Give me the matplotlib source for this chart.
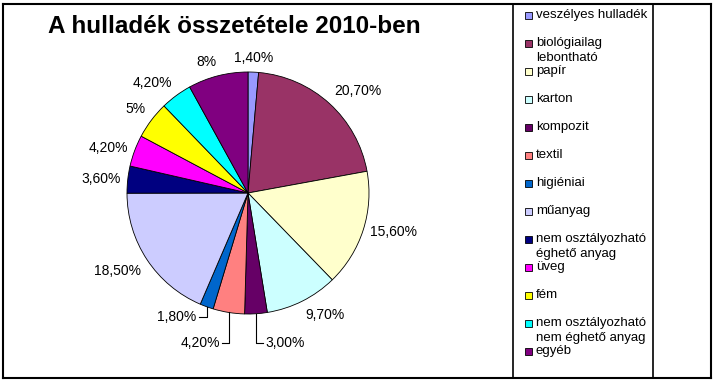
import numpy as np
import matplotlib
matplotlib.use("Agg")
import matplotlib.pyplot as plt
from matplotlib.patches import Rectangle
from matplotlib.lines import Line2D

plt.rcParams['font.family'] = ['Liberation Sans', 'DejaVu Sans']

title = "A hulladék összetétele 2010-ben"
categories = ["veszélyes hulladék", "biológiailag\nlebontható", "papír", "karton",
              "kompozit", "textil", "higiéniai", "műanyag",
              "nem osztályozható\néghető anyag", "üveg", "fém",
              "nem osztályozható\nnem éghető anyag", "egyéb"]
values = [1.4, 20.7, 15.6, 9.7, 3.0, 4.2, 1.8, 18.5, 3.6, 4.2, 5.0, 4.2, 8.0]
value_labels = ["1,40%", "20,70%", "15,60%", "9,70%", "3,00%", "4,20%", "1,80%",
                "18,50%", "3,60%", "4,20%", "5%", "4,20%", "8%"]
colors = ["#9999FF", "#993366", "#FFFFCC", "#CCFFFF", "#660066", "#FF8080",
          "#0066CC", "#CCCCFF", "#000080", "#FF00FF", "#FFFF00", "#00FFFF", "#800080"]

W, H = 714, 383
fig = plt.figure(figsize=(W / 100, H / 100), dpi=100)
fig.patch.set_facecolor("white")

def fx(x):
    return x / W

def fy(y):
    return 1 - y / H

# Pie axes: centre (248,193) px, radius 121 px
cx, cy, R = 248, 193, 121
ax = fig.add_axes([fx(cx - R), fy(cy + R), 2 * R / W, 2 * R / H])
wedges, _ = ax.pie(values, colors=colors, startangle=90, counterclock=False,
                   wedgeprops=dict(edgecolor="black", linewidth=0.6))
ax.set_xlim(-1, 1)
ax.set_ylim(-1, 1)
ax.set_aspect("equal")
ax.axis("off")

px = 1.0 / R  # data units per pixel
lab_fs = 10
leaders = {4: (29, 7), 5: (31, -7), 6: (10, -8)}  # index: (down px, horizontal px)

for i, w in enumerate(wedges):
    mid = np.deg2rad((w.theta1 + w.theta2) / 2)
    c, s = np.cos(mid), np.sin(mid)
    if i in leaders:
        down, hor = leaders[i]
        ex, ey = c, s
        ty = ey - down * px
        tx = ex + hor * px
        ax.add_line(Line2D([ex, ex, tx], [ey, ty, ty], color="black", lw=0.8,
                           clip_on=False))
        ha = "left" if hor > 0 else "right"
        ax.text(tx + (2 * px if hor > 0 else -2 * px), ty, value_labels[i],
                ha=ha, va="center", fontsize=lab_fs, clip_on=False)
        continue
    d = 1.06
    x, y = d * c, d * s
    ha = "left" if c > 0.1 else ("right" if c < -0.1 else "center")
    va = "bottom" if s > 0.5 else ("top" if s < -0.5 else "center")
    ax.text(x, y, value_labels[i], ha=ha, va=va, fontsize=lab_fs, clip_on=False)

# Title
fig.text(fx(48), fy(33), title, fontsize=17.5, fontweight="bold", ha="left",
         va="baseline")

# Legend (manual, uniform spacing as in reference)
y0, step = 15, 28
for i, (lab, col) in enumerate(zip(categories, colors)):
    yc = y0 + i * step
    fig.patches.append(Rectangle((fx(524.5), fy(yc + 3.5)), 7 / W, 7 / H,
                                 transform=fig.transFigure, facecolor=col,
                                 edgecolor="black", linewidth=0.6))
    for j, line in enumerate(lab.split("\n")):
        fig.text(fx(536), fy(yc + j * 15), line, fontsize=9.5, ha="left",
                 va="center")

# Borders
def hline(x0, x1, y, lw):
    fig.add_artist(Line2D([fx(x0), fx(x1)], [fy(y), fy(y)], color="black",
                          lw=lw, transform=fig.transFigure))

def vline(x, y0_, y1_, lw):
    fig.add_artist(Line2D([fx(x), fx(x)], [fy(y0_), fy(y1_)], color="black",
                          lw=lw, transform=fig.transFigure))

hline(3, 711, 4, 1.5)
hline(3, 711, 378, 1.5)
vline(3, 4, 378, 1.5)
vline(711, 4, 378, 1.5)
vline(512.5, 4, 378, 1.2)
vline(652.5, 4, 378, 1.2)

fig.savefig("out.png", dpi=100, facecolor="white")
